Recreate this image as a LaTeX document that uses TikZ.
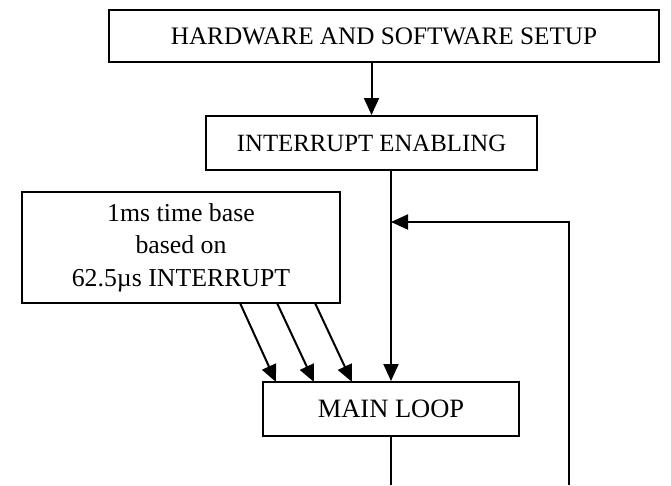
\documentclass[tikz,border=0pt]{standalone}
\usepackage{fontspec}
\setmainfont{Liberation Serif}
\usetikzlibrary{arrows.meta}
\begin{document}
\begin{tikzpicture}[x=1pt,y=-1pt,
  box/.style={draw,line width=2pt,rectangle,inner sep=0pt,align=center},
  flow/.style={line width=2pt,-{Triangle[length=17pt,width=15pt]}},
  wire/.style={line width=2pt}]
\useasboundingbox (0,0) rectangle (671,485);

% process boxes
\node[box,minimum width=550pt,minimum height=52pt,font=\fontsize{25.2}{30}\selectfont] (setup) at (384,36) {HARDWARE AND SOFTWARE SETUP};
\node[box,minimum width=331pt,minimum height=54pt,font=\fontsize{24.8}{30}\selectfont] (irq) at (371.5,143) {INTERRUPT ENABLING};
\node[box,minimum width=318pt,minimum height=111pt,font=\fontsize{25.8}{32.5}\selectfont] (tb) at (181,247.5) {1ms time base\\based on\\62.5µs INTERRUPT};
\node[box,minimum width=256pt,minimum height=54pt,font=\fontsize{26.5}{30}\selectfont] (main) at (391,409) {MAIN LOOP};

% free ends and corners
\coordinate (loopbot) at (391,485);
\coordinate (retbot) at (569,485);
\coordinate (retcorner) at (569,222);
\coordinate (t1) at (240,303);
\coordinate (t2) at (277,303);
\coordinate (t3) at (315,303);
\coordinate (m1) at (276,382);
\coordinate (m2) at (314,382);
\coordinate (m3) at (352,382);

% connectors
\draw[flow] (irq.north |- setup.south) -- (irq.north);
\draw[flow] (main.north |- irq.south) -- (main.north);
\draw[flow] (t1) -- (m1);
\draw[flow] (t2) -- (m2);
\draw[flow] (t3) -- (m3);
\draw[wire] (main.south) -- (loopbot);
\draw[flow] (retbot) -- (retcorner) -- (main.north |- retcorner);
\end{tikzpicture}
\end{document}
